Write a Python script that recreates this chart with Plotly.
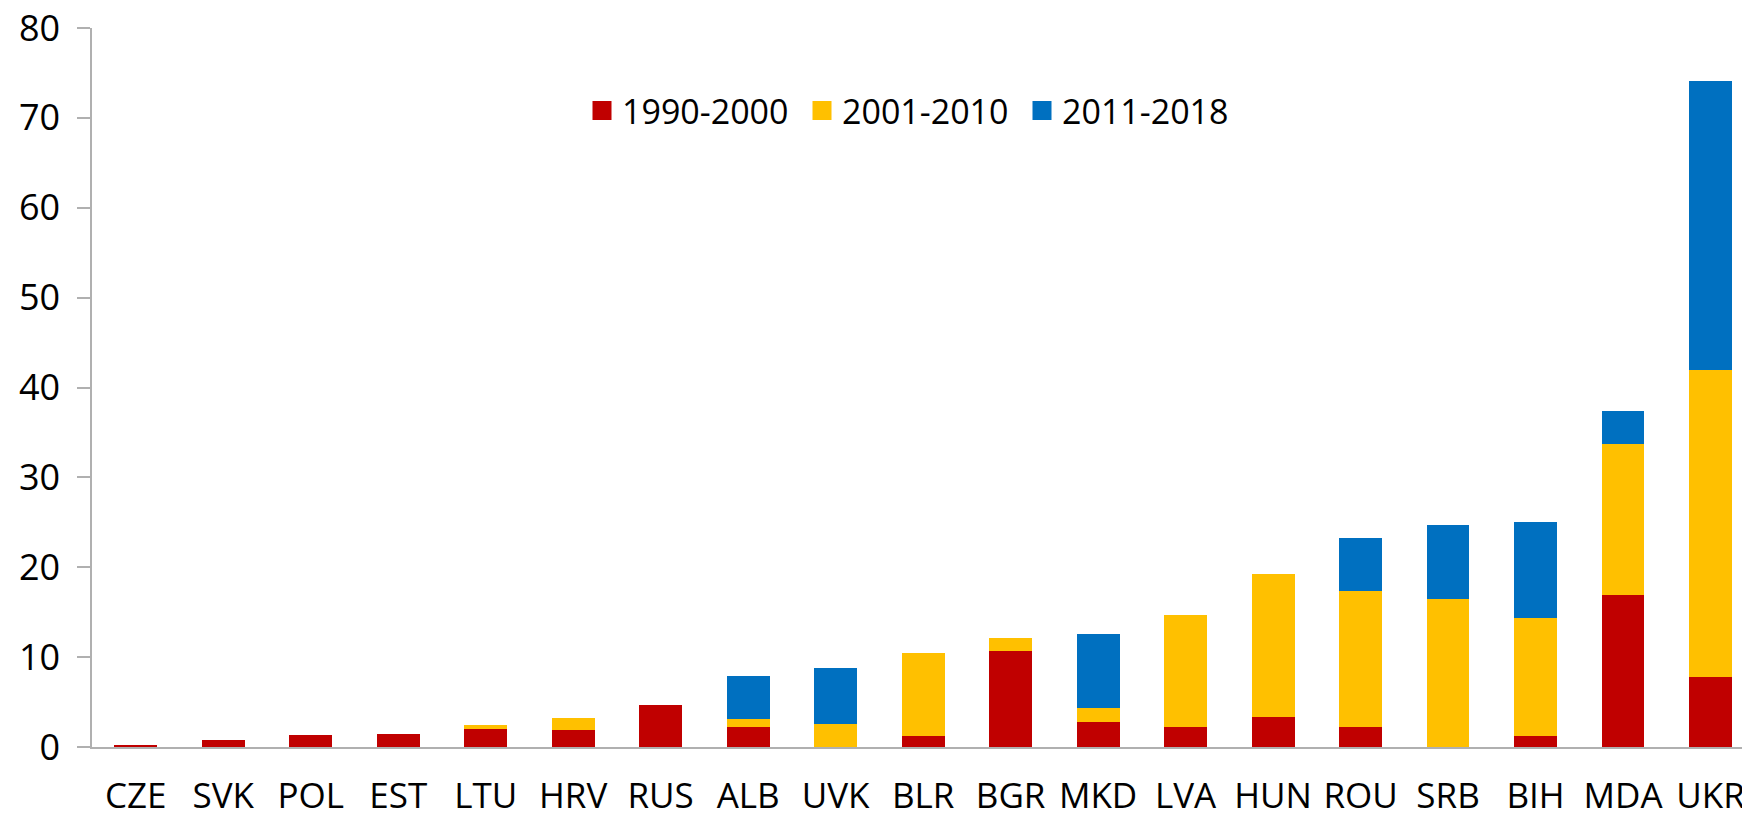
import plotly.graph_objects as go

countries = ["CZE", "SVK", "POL", "EST", "LTU", "HRV", "RUS", "ALB", "UVK", "BLR",
             "BGR", "MKD", "LVA", "HUN", "ROU", "SRB", "BIH", "MDA", "UKR"]
period_names = ["1990-2000", "2001-2010", "2011-2018"]
p1990_2000 = [0.25, 0.75, 1.35, 1.4, 2.0, 1.87, 4.7, 2.22, 0.0, 1.26,
              10.68, 2.74, 2.26, 3.37, 2.2, 0.0, 1.19, 16.86, 7.78]
p2001_2010 = [0.0, 0.0, 0.0, 0.0, 0.5, 1.4, 0.0, 0.86, 2.6, 9.2,
              1.48, 1.56, 12.42, 15.87, 15.15, 16.5, 13.11, 16.81, 34.17]
p2011_2018 = [0.0, 0.0, 0.0, 0.0, 0.0, 0.0, 0.0, 4.8, 6.2, 0.0,
              0.0, 8.27, 0.0, 0.0, 5.86, 8.16, 10.7, 3.69, 32.11]
colors = ["#C00000", "#FFC000", "#0070C0"]

FONT = "Open Sans, sans-serif"

fig = go.Figure()
for name, vals, col in zip(period_names, [p1990_2000, p2001_2010, p2011_2018], colors):
    fig.add_trace(go.Bar(
        x=countries, y=vals, name=name, marker_color=col,
        marker_line_width=0, width=0.49, showlegend=False,
    ))
    # legend entry with a larger square swatch
    fig.add_trace(go.Scatter(
        x=[None], y=[None], mode="markers", name=name,
        marker=dict(symbol="square", size=16, color=col,
                    line=dict(color=col, width=3)),
    ))

fig.update_layout(
    width=1742, height=819,
    barmode="stack",
    plot_bgcolor="white", paper_bgcolor="white",
    margin=dict(l=92, r=0, t=28, b=72, autoexpand=False),
    font=dict(family=FONT, size=36, color="#000000"),
    legend=dict(
        orientation="h", traceorder="normal",
        x=(582 - 92) / 1650, y=(747 - 111) / 719, xanchor="left", yanchor="middle",
        entrywidth=175, entrywidthmode="pixels",
        font=dict(family=FONT, size=34), bgcolor="rgba(0,0,0,0)",
    ),
    xaxis=dict(
        type="category", range=[-0.5, 18.36], showgrid=False,
        showline=True, linecolor="#B0B0B0", linewidth=1.5,
        ticks="", ticklabelstandoff=17, fixedrange=True,
        tickfont=dict(size=35),
    ),
    yaxis=dict(
        range=[0, 80], tickvals=[0, 10, 20, 30, 40, 50, 60, 70, 80],
        showgrid=False, zeroline=False,
        showline=True, linecolor="#B0B0B0", linewidth=1.5,
        ticks="outside", ticklen=13, tickcolor="#B0B0B0", tickwidth=1.5,
        ticklabelstandoff=10,
    ),
)

fig.write_html("out.html")
